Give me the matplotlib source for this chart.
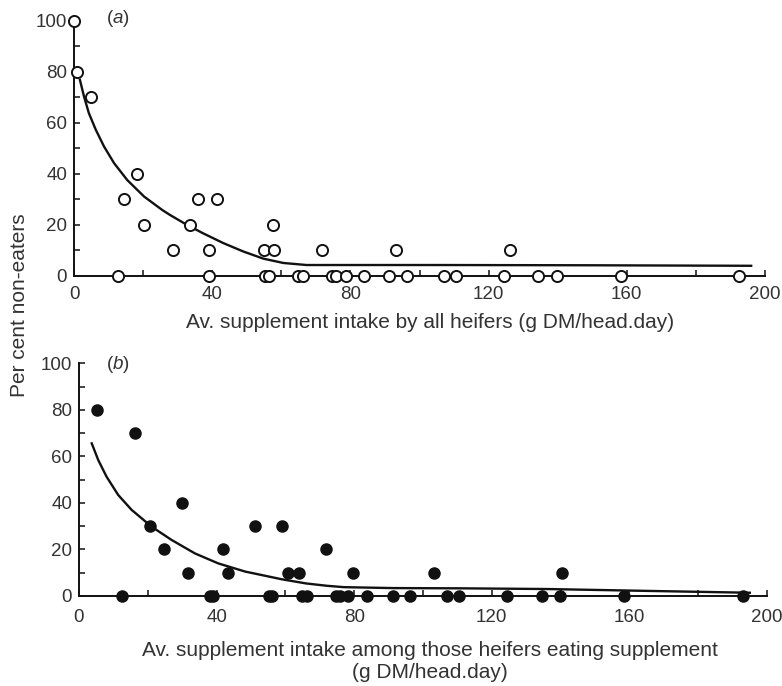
import matplotlib
matplotlib.use("Agg")
import matplotlib.pyplot as plt
from matplotlib.ticker import MultipleLocator

plt.rcParams['font.family'] = ['Liberation Sans', 'DejaVu Sans']
plt.rcParams['mathtext.fontset'] = 'custom'
plt.rcParams['mathtext.rm'] = 'Liberation Sans'
plt.rcParams['mathtext.it'] = 'Liberation Sans:italic'

# ---- Panel (a): all heifers ----
a_x_nonzero = [0, 0.9, 4.8, 18.1, 14.6, 20.3, 28.7, 33.7, 35.9, 41.4, 39.2,
               55.0, 57.6, 57.8, 71.9, 93.1, 126.2]
a_y_nonzero = [100, 80, 70, 40, 30, 20, 10, 20, 30, 30, 10,
               10, 20, 10, 10, 10, 10]
a_x_zero = [12.8, 39.2, 55.3, 56.5, 64.7, 66.3, 74.7, 75.8, 78.6, 83.9, 91.2,
            96.3, 107.1, 110.6, 124.5, 134.4, 139.7, 158.2, 192.6]
a_curve_x = [1.7, 2.9, 4.3, 6.3, 8.7, 11.6, 15.4, 20.3, 25.6, 27.8, 32.6,
             37.4, 43.2, 49.0, 54.8, 60.6, 67.3, 80.0, 106.0, 150.0, 196.0]
a_curve_y = [76.9, 70.3, 63.8, 57.3, 50.7, 44.2, 37.6, 31.1, 25.8, 23.9, 20.1,
             16.7, 12.9, 9.6, 6.8, 5.1, 4.3, 4.3, 4.3, 4.2, 4.0]

# ---- Panel (b): heifers eating supplement ----
b_x_nonzero = [5.1, 16.3, 20.6, 24.8, 30.0, 31.8, 41.8, 43.4, 51.2, 58.9,
               60.8, 64.0, 71.8, 79.6, 103.2, 140.3]
b_y_nonzero = [80, 70, 30, 20, 40, 10, 20, 10, 30, 30,
               10, 10, 20, 10, 10, 10]
b_x_zero = [12.4, 38.1, 39.0, 55.3, 56.0, 64.7, 66.4, 74.7, 75.9, 78.3, 83.6,
            91.4, 96.2, 107.1, 110.6, 124.5, 134.5, 139.8, 158.5, 193.1]
b_curve_x = [3.7, 5.6, 8.0, 11.4, 15.3, 21.1, 26.9, 33.7, 40.5, 48.3, 58.9,
             66.0, 72.0, 77.0, 91.4, 110.8, 136.0, 165.0, 195.0]
b_curve_y = [65.6, 58.4, 51.3, 43.4, 37.0, 29.8, 24.1, 18.3, 14.0, 10.5, 7.2,
             5.4, 4.4, 3.8, 3.4, 3.3, 3.0, 2.2, 1.4]

x_ticks = [0, 40, 80, 120, 160, 200]
y_ticks = [0, 20, 40, 60, 80, 100]

INK = '#111111'
TXT = '#333333'

fig = plt.figure(figsize=(7.82, 6.86), dpi=100)
ax_a = fig.add_axes([74/782, 1-276/686, 691/782, 255.3/686])
ax_b = fig.add_axes([79/782, 1-596/686, 688/782, 232.7/686])


def style(ax, xpad):
    ax.set_xlim(0, 200)
    ax.set_ylim(0, 100)
    for s in ['top', 'right']:
        ax.spines[s].set_visible(False)
    for s in ['left', 'bottom']:
        ax.spines[s].set_linewidth(1.4)
        ax.spines[s].set_color(INK)
    ax.set_xticks(x_ticks)
    ax.set_yticks(y_ticks)
    ax.xaxis.set_minor_locator(MultipleLocator(20))
    ax.yaxis.set_minor_locator(MultipleLocator(10))
    ax.tick_params(which='both', direction='in', length=4, width=1.1,
                   color=INK, labelcolor=TXT, labelsize=13.5)
    ax.tick_params(axis='x', pad=xpad)
    ax.tick_params(axis='y', pad=5)
    ax.patch.set_alpha(0)


style(ax_a, 7)
style(ax_b, 9.5)

# panel a
ax_a.plot(a_curve_x, a_curve_y, color=INK, lw=1.7, zorder=2,
          solid_joinstyle='round')
ax_a.plot(a_x_nonzero, a_y_nonzero, 'o', ms=8, mfc='white', mec=INK,
          mew=1.4, clip_on=False, zorder=3)
ax_a.plot(a_x_zero, [0] * len(a_x_zero), 'o', ms=8, mfc='white', mec=INK,
          mew=1.4, clip_on=False, zorder=3)
ax_a.text(12.7, 101, r'($\mathit{a}$)', ha='center', va='center',
          fontsize=13.5, color=TXT)

# panel b
ax_b.plot(b_curve_x, b_curve_y, color=INK, lw=1.7, zorder=2,
          solid_joinstyle='round')
ax_b.plot(b_x_nonzero, b_y_nonzero, 'o', ms=8, mfc=INK, mec=INK,
          clip_on=False, zorder=3)
ax_b.plot(b_x_zero, [0] * len(b_x_zero), 'o', ms=8, mfc=INK, mec=INK,
          clip_on=False, zorder=3)
ax_b.text(11.4, 99.3, r'($\mathit{b}$)', ha='center', va='center',
          fontsize=13.5, color=TXT)

fig.text(430/782, 1-323/686,
         'Av. supplement intake by all heifers (g DM/head.day)',
         ha='center', va='center', fontsize=15, color=TXT)
fig.text(430/782, 1-661/686,
         'Av. supplement intake among those heifers eating supplement\n(g DM/head.day)',
         ha='center', va='center', fontsize=15, color=TXT,
         multialignment='center', linespacing=1.2)
fig.text(20/782, 1-305/686, 'Per cent non-eaters', rotation=90,
         ha='center', va='center', fontsize=15, color=TXT)

fig.savefig('out.png', dpi=100)
